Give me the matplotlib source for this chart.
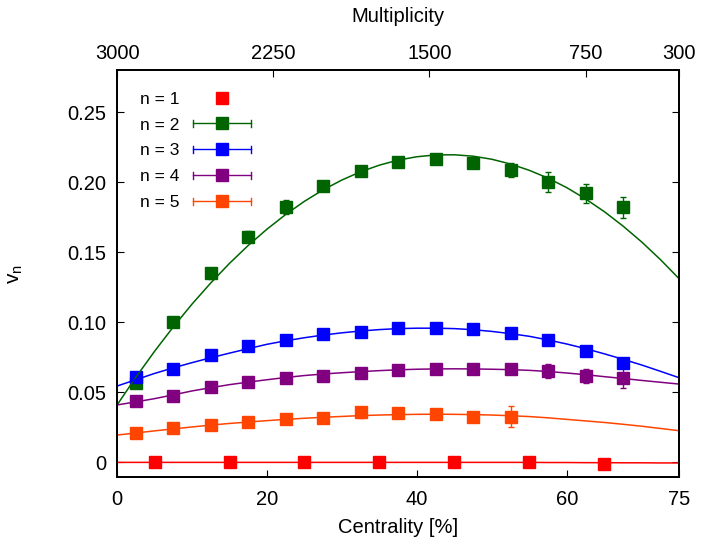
import numpy as np
import matplotlib
matplotlib.use("Agg")
import matplotlib.pyplot as plt
from matplotlib.lines import Line2D
from matplotlib.legend_handler import HandlerLine2D

plt.rcParams['font.family'] = ['Liberation Sans', 'DejaVu Sans']
plt.rcParams['mathtext.fontset'] = 'custom'
plt.rcParams['mathtext.rm'] = 'Liberation Sans'
plt.rcParams['mathtext.it'] = 'Liberation Sans'

# centrality bins
cent = [2.5, 7.5, 12.5, 17.5, 22.5, 27.5, 32.5, 37.5, 42.5, 47.5, 52.5, 57.5, 62.5, 67.5]
cent_v1 = [5, 15, 25, 35, 45, 55, 65]

v1 = [0.0, 0.0, 0.0, 0.0, 0.0, 0.0, -0.001]

v2 = [0.057, 0.100, 0.135, 0.161, 0.182, 0.197, 0.208, 0.2145, 0.2164, 0.214, 0.209, 0.200, 0.192, 0.182]
v2_err = [0.003, 0.002, 0.004, 0.004, 0.005, 0.003, 0.003, 0.003, 0.003, 0.003, 0.005, 0.007, 0.007, 0.0075]

v3 = [0.0607, 0.0669, 0.0766, 0.0831, 0.0874, 0.0914, 0.0933, 0.0960, 0.0960, 0.0950, 0.0921, 0.0874, 0.0797, 0.0711]
v3_err = [0.002, 0.002, 0.002, 0.002, 0.002, 0.002, 0.002, 0.002, 0.002, 0.002, 0.002, 0.003, 0.003, 0.003]

v4 = [0.0440, 0.0474, 0.0536, 0.0571, 0.0604, 0.0619, 0.0640, 0.0659, 0.0666, 0.0666, 0.0664, 0.0654, 0.0616, 0.0602]
v4_err = [0.002, 0.002, 0.002, 0.002, 0.002, 0.002, 0.002, 0.002, 0.002, 0.003, 0.003, 0.005, 0.005, 0.007]

v5 = [0.0211, 0.0243, 0.0266, 0.0286, 0.0307, 0.0319, 0.0357, 0.0352, 0.0345, 0.0326, 0.0326]
v5_err = [0.002, 0.002, 0.002, 0.002, 0.002, 0.002, 0.004, 0.003, 0.002, 0.003, 0.0075]

# fit curves
fit_x = [0, 2.5, 5, 7.5, 10, 12.5, 15, 17.5, 20, 22.5, 25, 27.5, 30, 32.5, 35, 37.5,
         40, 42.5, 45, 47.5, 50, 52.5, 55, 57.5, 60, 62.5, 65, 67.5, 70, 72.5, 75]
fit_v1 = [0.0, 0.0, 0.0, 0.0, 0.0, 0.0, 0.0, 0.0, 0.0, 0.0, 0.0, 0.0, 0.0, 0.0, 0.0, 0.0,
          0.0, 0.0, 0.0, 0.0, 0.0, 0.0, 0.0, -0.0001, -0.0001, -0.0002, -0.0002, -0.0003,
          -0.0003, -0.0004, -0.0004]
fit_v2 = [0.0410, 0.0607, 0.0793, 0.0967, 0.1130, 0.1281, 0.1421, 0.1549, 0.1665, 0.1770,
          0.1864, 0.1946, 0.2016, 0.2075, 0.2122, 0.2158, 0.2182, 0.2195, 0.2196, 0.2186,
          0.2164, 0.2130, 0.2085, 0.2029, 0.1961, 0.1881, 0.1790, 0.1687, 0.1573, 0.1447,
          0.1310]
fit_v3 = [0.0545, 0.0590, 0.0635, 0.0675, 0.0712, 0.0747, 0.0780, 0.0812, 0.0843, 0.0868,
          0.0890, 0.0909, 0.0925, 0.0938, 0.0948, 0.0955, 0.0958, 0.0958, 0.0955, 0.0947,
          0.0935, 0.0919, 0.0900, 0.0874, 0.0845, 0.0812, 0.0775, 0.0736, 0.0695, 0.0650,
          0.0604]
fit_v4 = [0.0410, 0.0432, 0.0455, 0.0482, 0.0510, 0.0533, 0.0555, 0.0573, 0.0590, 0.0606,
          0.0620, 0.0631, 0.0640, 0.0648, 0.0655, 0.0661, 0.0665, 0.0667, 0.0668, 0.0667,
          0.0665, 0.0662, 0.0657, 0.0649, 0.0638, 0.0626, 0.0612, 0.0599, 0.0585, 0.0572,
          0.0559]
fit_v5 = [0.0195, 0.0210, 0.0225, 0.0239, 0.0253, 0.0266, 0.0278, 0.0288, 0.0298, 0.0307,
          0.0315, 0.0322, 0.0328, 0.0334, 0.0338, 0.0341, 0.0343, 0.0344, 0.0343, 0.0341,
          0.0338, 0.0333, 0.0327, 0.0318, 0.0307, 0.0296, 0.0285, 0.0272, 0.0258, 0.0242,
          0.0226]

labels = ['n = 1', 'n = 2', 'n = 3', 'n = 4', 'n = 5']
colors = ['#ff0000', '#006400', '#0000ff', '#800080', '#ff4500']

xticks = [0, 20, 40, 60, 75]
yticks = [0, 0.05, 0.10, 0.15, 0.20, 0.25]
ytick_labels = ['0', '0.05', '0.10', '0.15', '0.20', '0.25']
mult_ticks = [3000, 2250, 1500, 750, 300]


class CapHandler(HandlerLine2D):
    # gnuplot style errorbar key: horizontal bar with end caps
    def create_artists(self, legend, orig_handle, xdescent, ydescent,
                       width, height, fontsize, trans):
        arts = super().create_artists(legend, orig_handle, xdescent, ydescent,
                                      width, height, fontsize, trans)
        if orig_handle.get_linestyle() in ('None', 'none', ''):
            return arts
        y = (height - ydescent) / 2
        for xx in (-xdescent, width - xdescent):
            cap = Line2D([xx, xx], [y - 2.5, y + 2.5], color=orig_handle.get_color(),
                         lw=1.0, transform=trans)
            arts.append(cap)
        return arts


fig = plt.figure(figsize=(7.01, 5.44), dpi=100)
ax = fig.add_axes([0.167, 0.123, 0.802, 0.748])

ms = 9
ax.plot(cent_v1, v1, 's', color=colors[0], ms=ms, zorder=2)
series = [(v2, v2_err), (v3, v3_err), (v4, v4_err), (v5, v5_err)]
for i, (v, e) in enumerate(series):
    ax.errorbar(cent[:len(v)], v, yerr=e, fmt='s', color=colors[i + 1], ms=ms,
                elinewidth=1.0, capsize=2.5, capthick=1.0, zorder=2)

fits = [fit_v1, fit_v2, fit_v3, fit_v4, fit_v5]
for i, f in enumerate(fits):
    ax.plot(fit_x, f, '-', color=colors[i], lw=1.1, zorder=3)

handles = [Line2D([], [], color=colors[0], marker='s', ms=ms, linestyle='None')]
for c in colors[1:]:
    handles.append(Line2D([], [], color=c, marker='s', ms=ms, lw=1.0))
ax.legend(handles, labels, loc='upper left', bbox_to_anchor=(0.013, 0.986),
          frameon=False, markerfirst=False, fontsize=12.5, handlelength=3.3,
          handletextpad=0.8, labelspacing=0.62, numpoints=1,
          handler_map={Line2D: CapHandler()})

ax.set_xlim(0, 75)
ax.set_ylim(-0.0105, 0.28)
ax.set_xticks(xticks)
ax.set_yticks(yticks)
ax.set_yticklabels(ytick_labels)
ax.tick_params(direction='in', length=5, labelsize=14.5, right=True, pad=8)
ax.tick_params(axis='x', pad=9)
ax.set_xlabel('Centrality [%]', fontsize=14.5, labelpad=7)
ax.set_ylabel(r'v$_{\rm n}$', fontsize=15, labelpad=30)

ax2 = ax.twiny()
ax2.set_xlim(3000, 300)
ax2.set_xticks(mult_ticks)
ax2.tick_params(direction='in', length=5, labelsize=14.5, pad=5)
ax2.set_xlabel('Multiplicity', fontsize=14.5, labelpad=16)

for a in (ax, ax2):
    for s in a.spines.values():
        s.set_linewidth(1.3)

fig.savefig('out.png', dpi=100)
